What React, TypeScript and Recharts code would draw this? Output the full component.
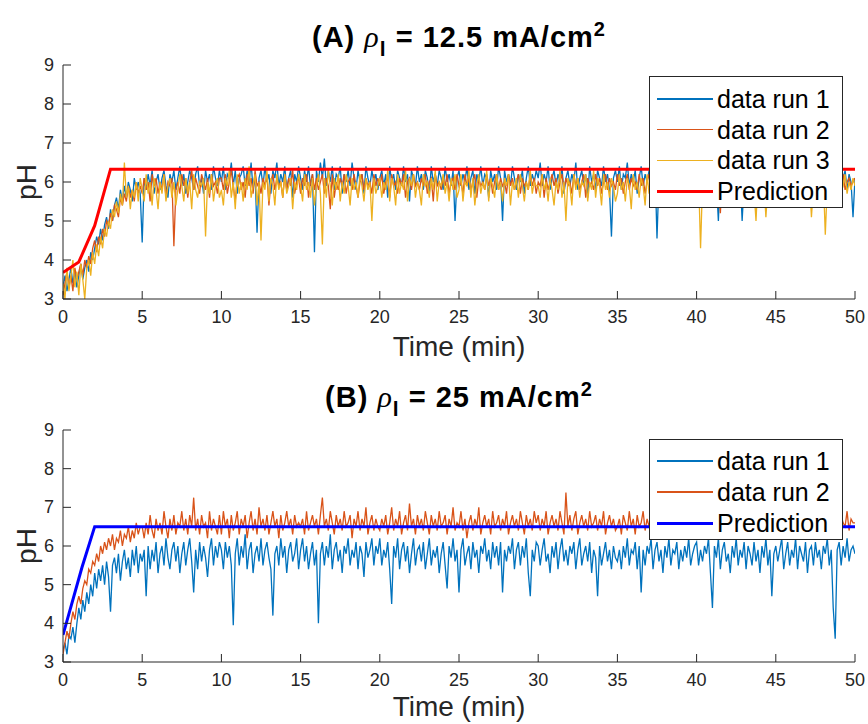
import React from 'react';
import { LineChart, Line, XAxis, YAxis } from 'recharts';

// ---------- data ----------
const TIME_STEP_MIN = 0.125;
const X_TICKS = [0, 5, 10, 15, 20, 25, 30, 35, 40, 45, 50];
const Y_TICKS = [3, 4, 5, 6, 7, 8, 9];

// Panel A: rho_l = 12.5 mA/cm^2 (each line = 5 min)
const A_RUN1 = [
  3.3,3.6,3.2,3.5,3.8,3.4,3.7,3.3,3.6,3.9, 3.5,3.8,4.0,3.7,4.2,4.0,4.3,4.6,4.4,4.8, 4.5,4.9,5.1,4.8,5.3,5.0,5.4,5.6,5.3,5.8, 5.5,5.9,5.6,6.0,5.8,5.5,6.1,5.8,6.0,5.7,
  4.45,6.1,5.8,6.2,5.9,6.3,5.7,6.0,6.2,5.8, 6.1,6.3,5.9,5.6,6.2,6.0,6.3,5.8,6.1,6.4, 5.9,6.2,5.7,6.0,6.3,6.1,5.8,6.2,6.4,5.9, 6.1,5.7,6.3,6.0,6.2,5.8,6.4,6.1,5.9,6.3,
  6.0,6.4,5.8,6.2,6.1,6.5,5.9,6.3,5.7,6.1, 6.2,6.4,5.9,6.3,6.0,6.5,5.8,6.2,4.7,6.1, 6.3,5.9,6.4,6.0,6.2,5.7,6.3,6.1,6.5,5.9, 6.2,6.0,6.4,5.8,6.1,6.3,5.6,6.2,6.0,6.4,
  6.1,5.8,6.3,6.0,6.4,5.9,6.2,4.2,6.3,6.0, 6.5,6.1,6.6,5.9,6.3,6.0,6.4,5.8,6.2,6.1, 6.4,5.7,6.2,6.0,6.3,5.9,6.5,6.1,5.8,6.3, 6.0,6.2,5.7,6.4,6.1,5.9,6.3,6.0,6.2,5.8,
  6.1,6.3,5.9,6.2,5.6,6.4,6.0,6.2,5.8,6.3, 6.1,5.9,6.4,6.0,6.2,5.5,6.3,6.1,5.9,6.4, 6.0,6.2,5.8,6.3,6.1,5.7,6.4,6.0,6.2,5.9, 6.3,6.1,5.8,6.4,6.0,6.2,5.9,6.3,5.0,6.1,
  6.3,5.9,6.2,6.0,6.4,5.8,6.1,6.3,5.7,6.2, 6.0,6.4,5.9,6.2,6.1,5.6,6.3,6.0,6.2,5.8, 6.4,6.1,5.0,6.3,6.0,6.2,5.9,6.4,6.1,5.8, 6.2,6.0,6.3,5.7,6.1,6.4,5.9,6.2,6.0,6.3,
  6.1,6.5,5.9,6.2,6.0,6.4,5.8,6.1,6.3,5.9, 6.2,6.0,6.4,5.7,6.1,6.3,5.9,6.2,6.0,6.5, 5.8,6.1,6.3,5.9,6.2,5.6,6.4,6.0,6.2,5.8, 6.3,6.1,5.9,6.4,6.0,6.2,5.8,4.6,6.1,6.3,
  6.0,6.4,5.8,6.2,6.1,6.5,5.9,6.2,6.0,6.3, 5.7,6.1,6.4,5.9,6.2,6.0,6.3,5.8,6.1,6.4, 4.55,6.1,6.3,5.8,6.2,6.0,6.4,5.9,6.1,6.3, 5.8,6.2,6.0,6.4,5.9,6.1,6.3,5.7,6.2,6.0,
  6.3,5.9,6.2,6.0,6.4,5.8,6.1,6.3,5.9,6.2, 6.0,5.0,6.3,6.1,5.8,6.4,6.0,6.2,5.9,6.3, 6.1,5.8,6.2,5.0,6.0,6.4,5.9,6.2,6.1,5.7, 6.3,6.0,6.2,5.8,6.4,6.1,5.9,6.3,6.0,6.2,
  5.9,6.3,6.1,6.4,5.8,6.2,6.0,6.3,5.9,6.1, 6.4,5.8,6.2,6.0,6.3,5.7,6.1,6.4,5.9,6.2, 6.0,6.3,5.8,6.2,6.1,6.4,5.9,6.0,6.3,5.8, 6.2,6.0,6.4,5.9,6.1,6.3,5.8,6.2,6.0,5.1,
  6.1,
];
const A_RUN2 = [
  3.1,3.4,3.7,3.3,3.6,3.2,3.8,3.5,3.7,3.9, 3.6,4.0,3.8,4.1,3.9,4.3,4.5,4.2,4.6,4.4, 4.8,4.6,5.0,4.9,5.2,5.0,5.4,5.3,5.1,5.6, 5.4,5.7,5.5,5.9,5.6,5.8,5.5,6.0,5.7,5.9,
  5.7,6.1,5.8,6.0,5.5,6.2,5.9,6.1,5.7,6.0, 5.8,6.2,5.6,6.0,5.9,6.1,4.35,5.8,6.0,5.7, 6.2,5.9,6.1,5.6,6.0,6.3,5.8,6.1,5.9,5.7, 6.2,6.0,5.8,6.1,5.6,6.2,5.9,6.0,5.7,6.1,
  6.1,5.8,6.2,5.7,6.0,6.3,5.9,5.5,6.1,6.2, 5.8,6.0,5.6,6.2,5.9,6.1,5.7,6.3,5.9,6.0, 5.7,6.1,5.9,6.2,5.4,6.0,6.2,5.8,6.1,5.9, 6.0,5.6,6.2,5.8,6.1,5.9,6.3,5.7,6.0,6.1,
  5.7,6.1,5.9,6.2,5.6,6.0,6.2,5.8,6.1,5.8, 6.0,6.2,5.7,6.1,5.9,5.3,6.2,5.6,6.0,5.8, 6.1,5.9,6.2,5.7,6.0,6.1,5.8,6.2,5.9,5.6, 6.0,6.2,5.8,6.1,5.9,6.0,5.7,6.2,5.9,6.1,
  5.9,6.2,5.7,6.0,6.1,5.6,6.2,5.9,6.0,5.7, 6.1,5.9,6.2,5.6,6.0,6.1,5.8,6.2,5.9,6.0, 5.8,6.1,5.9,6.2,5.7,6.0,6.1,5.5,6.2,5.9, 6.0,5.8,6.1,5.9,6.2,5.7,6.0,6.1,5.8,6.2,
  5.9,6.0,5.7,6.2,5.9,6.1,5.8,6.0,6.2,5.6, 6.1,5.9,6.0,5.8,6.2,5.9,6.1,5.7,6.0,6.2, 5.8,6.1,5.9,6.0,5.7,6.2,5.9,6.1,5.8,6.0, 6.2,5.7,6.1,5.9,6.0,5.8,6.2,5.9,6.1,5.7,
  6.0,5.9,6.2,5.6,6.1,5.8,6.0,6.2,5.9,6.1, 5.7,6.0,6.2,5.8,6.1,5.9,6.0,5.7,6.2,5.9, 6.1,5.8,6.0,6.2,5.6,6.1,5.9,6.0,5.8,6.2, 5.9,6.1,5.7,6.0,6.2,5.8,6.1,5.9,6.0,5.8,
  6.2,5.9,6.1,5.7,6.0,6.2,5.8,6.1,5.9,6.0, 5.8,6.2,5.9,6.1,5.7,6.0,6.2,5.8,6.1,5.9, 6.0,5.7,6.2,5.9,6.1,5.8,6.0,6.2,5.6,6.1, 5.9,6.0,5.8,6.2,5.9,6.1,5.7,6.0,6.2,5.8,
  6.0,5.9,6.2,5.6,6.1,5.8,6.0,6.2,5.9,6.1, 5.7,6.0,5.2,6.2,5.8,6.1,5.9,6.0,5.7,6.2, 5.9,6.1,5.8,6.0,6.2,5.7,6.1,5.9,6.0,5.8, 6.2,5.9,6.1,5.7,6.0,6.2,5.8,6.1,5.9,6.0,
  5.9,6.1,5.8,6.0,6.2,5.7,6.1,5.9,6.0,5.8, 6.2,5.9,6.1,5.7,6.0,6.2,5.8,6.1,5.9,6.0, 5.8,6.1,5.9,6.2,5.7,6.0,6.1,5.8,6.2,5.9, 6.0,5.7,6.1,5.9,6.2,5.8,6.0,6.1,5.9,6.0,
  6.1,
];
const A_RUN3 = [
  3.4,3.0,3.8,3.2,3.6,4.0,3.3,3.7,3.1,3.9, 3.5,3.0,3.8,4.0,3.6,4.2,3.9,4.4,4.1,4.6, 4.3,4.8,4.6,5.0,4.8,5.3,5.1,5.5,5.2,5.7, 5.4,6.5,5.6,5.9,5.3,5.8,5.6,6.0,5.5,6.1,
  5.8,5.5,6.2,5.7,6.0,5.4,6.1,5.8,5.3,6.0, 5.7,6.2,5.5,5.9,6.1,5.6,6.0,5.4,5.8,6.2, 5.9,5.5,6.1,5.7,6.0,5.3,6.2,5.8,5.6,6.0, 5.9,6.1,4.6,6.0,5.7,6.2,5.5,5.9,6.1,5.6,
  5.8,5.4,6.1,5.9,6.3,5.6,6.0,5.3,6.2,5.7, 6.0,5.5,6.1,5.8,6.4,5.6,5.9,6.2,5.4,6.0, 4.5,6.0,5.8,6.3,5.5,6.1,5.9,5.4,6.2,5.8, 6.0,5.6,6.2,5.7,5.9,6.1,5.3,6.0,5.8,6.2,
  5.9,5.5,6.2,5.8,6.0,5.6,6.1,5.4,5.9,6.2, 5.7,4.4,6.1,5.6,6.3,5.9,5.4,6.1,5.8,6.2, 5.5,6.0,5.7,6.2,5.9,5.4,6.1,5.8,6.0,5.6, 6.2,5.9,5.5,6.1,5.8,6.0,5.0,6.1,5.7,5.9,
  6.1,5.6,6.0,5.8,6.3,5.5,6.1,5.9,5.4,6.2, 5.7,6.0,5.8,6.3,5.5,6.1,5.9,6.2,5.6,6.0, 5.8,5.4,6.2,5.9,6.0,5.6,6.1,5.8,6.3,5.5, 6.0,5.9,6.2,5.7,6.0,5.5,6.1,5.8,6.2,5.6,
  5.8,6.2,5.5,6.0,5.9,6.3,5.6,6.1,5.4,5.9, 6.2,5.7,6.0,5.8,6.3,5.5,6.1,5.9,5.6,6.2, 5.8,6.0,5.5,6.1,5.9,6.2,5.4,6.0,5.8,6.1, 5.6,6.2,5.9,5.5,6.0,5.8,6.3,5.7,6.0,5.9,
  5.9,5.6,6.2,5.8,6.0,5.5,6.1,5.8,5.4,6.0, 5.8,6.3,5.6,6.0,5.0,6.1,5.9,5.4,6.2,5.8, 6.1,5.6,6.0,5.9,6.2,5.5,6.0,5.8,6.3,5.6, 6.1,5.9,5.4,6.2,5.8,6.0,5.6,6.1,5.9,5.5,
  5.7,6.2,5.8,6.0,5.5,6.1,5.9,5.3,6.2,5.8, 6.0,5.6,6.1,5.9,5.4,6.2,5.7,6.0,5.8,6.1, 5.9,5.5,6.2,5.8,6.0,5.6,6.1,5.4,5.9,6.0, 5.7,6.2,5.8,5.5,6.1,5.9,6.0,5.6,6.2,5.8,
  5.9,6.1,4.3,6.0,5.7,6.2,5.5,5.9,6.1,5.6, 6.0,5.8,6.2,5.5,6.0,5.9,5.4,6.1,5.8,6.2, 5.6,6.0,5.9,5.5,6.1,5.8,6.2,5.6,6.0,5.8, 5.0,6.1,5.9,5.6,6.0,5.1,5.9,6.1,5.7,6.0,
  5.8,6.1,5.6,6.0,5.9,6.2,5.5,6.0,5.8,6.1, 5.6,6.0,5.9,6.2,5.4,6.0,5.8,6.1,5.1,5.9, 6.2,5.7,6.0,5.8,6.1,4.65,5.9,6.1,5.7,6.0, 5.8,6.1,5.6,6.0,5.9,6.2,5.7,6.0,5.8,6.1,
  5.9,
];
const A_PRED_T = [0, 1, 2, 3, 50];
const A_PRED_PH = [3.68, 3.95, 4.88, 6.33, 6.33];

// Panel B: rho_l = 25 mA/cm^2 (each line = 5 min)
const B_RUN1 = [
  3.3,3.5,3.2,3.7,3.6,3.9,3.5,4.0,4.4,4.1, 4.6,4.3,4.8,4.5,5.0,4.7,5.3,4.9,5.4,5.1, 5.5,5.0,5.6,5.2,4.3,5.5,5.7,5.3,5.8,5.1, 5.6,5.9,5.4,5.7,5.2,5.9,5.5,6.0,5.3,5.8,
  5.6,5.9,4.7,6.0,5.4,5.9,5.6,6.1,5.3,5.8, 6.0,5.5,6.2,5.7,5.4,5.9,6.1,5.6,6.0,5.3, 5.8,6.1,5.5,5.9,6.2,5.6,4.8,5.9,5.4,6.1, 5.6,6.0,5.7,5.2,5.9,6.2,5.5,6.0,5.7,6.1,
  5.9,5.4,6.1,5.7,6.0,5.5,3.95,5.8,6.2,5.5, 6.0,5.7,6.3,5.4,5.9,6.1,5.3,5.8,6.0,5.6, 6.2,5.5,5.9,6.1,5.7,5.4,4.2,5.8,6.0,5.5, 6.2,5.7,6.0,5.3,5.9,6.1,5.6,5.8,6.2,5.4,
  5.9,6.2,5.6,6.0,5.4,5.8,6.1,5.5,5.9,4.0, 5.8,6.1,5.5,6.0,5.7,6.3,5.4,5.9,6.1,5.6, 5.9,5.3,6.0,5.8,6.2,5.5,5.9,5.7,6.1,5.4, 6.0,5.8,5.2,6.1,5.7,5.9,6.2,5.5,6.0,5.8,
  6.2,5.5,5.9,5.7,6.1,5.4,4.5,6.0,5.7,6.2, 5.4,5.9,6.1,5.6,6.0,5.3,5.8,6.2,5.5,5.9, 6.0,5.6,6.1,5.4,5.8,6.2,5.5,5.9,5.7,6.0, 5.3,5.8,6.1,5.5,4.9,6.0,5.7,6.2,5.6,5.9,
  4.8,5.9,6.2,5.5,5.8,6.0,5.4,6.1,5.7,5.9, 5.3,6.0,5.8,6.2,5.6,5.9,5.4,6.1,5.7,6.0, 5.5,6.1,4.8,5.9,5.6,6.0,5.8,6.2,5.4,5.9, 6.1,5.5,6.0,5.7,6.2,5.3,4.7,5.9,5.6,6.1,
  6.0,5.5,5.9,6.2,5.6,5.8,5.3,6.0,5.7,6.1, 5.4,5.9,6.2,5.6,5.9,5.5,6.0,5.8,6.1,5.4, 5.9,6.2,5.5,5.8,6.0,5.6,6.1,5.3,5.9,5.7, 4.7,6.0,5.5,5.8,6.1,5.6,5.9,5.4,6.0,5.7,
  5.6,5.9,5.4,6.0,5.7,6.2,5.5,5.9,5.8,6.1, 5.4,6.0,4.8,5.9,5.5,6.0,5.8,6.2,5.4,5.9, 6.1,5.6,5.9,5.3,6.0,5.7,6.2,5.5,5.9,5.8, 6.1,5.4,5.9,5.6,6.0,5.7,6.2,5.5,5.8,6.0,
  6.1,5.5,5.9,5.6,6.0,5.8,6.2,5.3,4.4,6.0, 5.7,6.2,5.4,5.9,6.1,5.6,5.8,5.3,6.0,5.7, 6.2,5.5,5.9,5.7,6.1,5.4,6.0,5.8,5.5,6.1, 5.6,5.9,5.3,6.0,5.7,6.2,5.5,5.9,4.7,5.8,
  6.0,5.6,5.9,6.2,5.4,5.8,6.1,5.5,5.9,5.7, 6.2,5.4,6.0,5.8,5.6,6.1,5.3,5.9,6.0,5.5, 6.1,5.7,5.9,5.4,6.0,5.8,6.2,5.5,5.9,4.4, 3.6,5.9,6.1,5.5,6.0,5.7,6.2,5.6,5.9,6.0,
  5.8,
];
const B_RUN2 = [
  3.2,3.5,3.8,3.6,4.0,4.3,4.1,4.5,4.7,4.5, 4.9,5.1,5.0,5.4,5.3,5.6,5.5,5.8,5.6,6.0, 5.8,6.1,5.9,6.2,6.0,6.3,5.9,6.2,6.1,6.4, 6.0,6.3,6.2,6.5,6.1,6.4,6.2,6.6,6.3,6.5,
  6.5,6.2,6.6,6.3,6.8,6.4,6.2,6.7,6.4,6.6, 6.3,6.9,6.5,6.2,6.7,6.4,6.8,6.3,6.6,6.5, 6.9,6.4,6.7,6.3,6.8,6.5,7.25,6.4,6.7,6.3, 6.8,6.5,6.6,6.2,6.9,6.4,6.7,6.5,6.3,6.8,
  6.3,6.9,6.5,6.7,6.2,6.8,6.4,6.6,6.9,6.3, 6.7,6.5,6.8,6.2,6.6,6.9,6.4,6.7,6.3,7.0, 6.5,6.7,6.4,6.8,6.3,6.6,6.9,6.5,6.7,6.2, 6.8,6.4,6.6,6.9,6.5,6.7,6.3,6.8,6.5,6.6,
  6.5,6.7,6.3,6.9,6.4,6.6,6.8,6.5,6.7,6.3, 6.8,7.25,6.5,6.7,6.4,6.9,6.6,6.3,6.8,6.5, 6.7,6.4,6.9,6.5,6.6,6.8,6.2,6.7,6.5,6.9, 6.4,6.7,6.5,7.0,6.3,6.6,6.8,6.4,6.7,6.5,
  6.4,6.7,6.5,6.8,6.3,6.6,7.0,6.4,6.7,6.5, 6.9,6.3,6.6,6.8,6.4,7.1,6.5,6.7,6.3,6.8, 6.5,6.7,6.4,6.9,6.6,6.3,6.8,6.5,6.7,6.4, 6.9,6.5,6.6,6.8,6.3,6.7,6.5,7.0,6.4,6.6,
  6.5,6.9,6.4,6.7,6.2,6.6,6.8,6.4,6.7,6.5, 7.0,6.3,6.6,6.8,6.5,6.7,6.3,6.9,6.5,6.6, 6.8,6.4,6.7,6.5,6.9,6.3,6.6,6.8,6.5,6.7, 6.4,6.9,6.6,6.3,6.8,6.5,6.7,6.4,6.9,6.6,
  6.8,6.4,6.7,6.5,6.9,6.3,6.6,6.8,6.5,6.7, 6.4,6.9,6.6,6.3,7.38,6.5,6.8,6.4,6.7,6.9, 6.3,6.6,6.8,6.5,6.7,6.4,6.9,6.5,6.6,6.8, 6.4,6.7,6.5,6.9,6.3,6.6,6.8,6.5,6.7,6.4,
  6.5,6.7,6.3,6.8,6.6,6.4,6.9,6.5,6.7,6.3, 6.8,6.5,6.6,6.9,6.4,6.7,6.5,6.8,6.3,6.6, 6.9,6.4,6.7,6.5,6.8,6.3,6.6,6.9,6.5,6.7, 6.4,6.8,6.5,6.6,6.9,6.4,6.7,6.5,6.8,6.3,
  6.8,6.4,6.7,6.5,6.9,6.3,6.6,6.8,6.5,6.7, 6.4,6.9,6.5,6.6,6.8,6.3,6.7,6.5,6.9,6.4, 6.6,6.8,6.4,6.7,6.5,6.9,6.3,6.6,6.8,6.5, 6.7,6.4,6.9,6.5,6.6,6.8,6.4,6.7,6.5,6.9,
  6.6,6.8,6.4,6.7,6.5,7.1,6.3,6.6,6.8,6.5, 6.7,6.4,6.9,6.5,6.6,6.8,6.4,6.7,6.5,6.8, 6.3,6.6,6.9,6.5,6.7,6.4,6.8,6.6,6.3,6.9, 6.5,6.7,6.4,6.8,6.6,6.5,6.9,6.4,6.7,6.6,
  6.6,
];
const B_PRED_T = [0, 1.2, 2, 50];
const B_PRED_PH = [3.7, 5.45, 6.5, 6.5];

// ---------- styling ----------
const AXIS = '#262626';
const FONT = '"Liberation Sans", Arial, Helvetica, sans-serif';
const C_RUN1 = '#0072BD';
const C_RUN2 = '#D95319';
const C_RUN3 = '#EDB120';
const C_PRED_A = '#FF0000';
const C_PRED_B = '#0000FF';
const TICK_LEN = 8;
const DATA_WIDTH = 1.3;

const buildRows = (series: number[][]) =>
  series[0].map((_, i) => {
    const row: any = { t: i * TIME_STEP_MIN };
    series.forEach((s, k) => {
      row['r' + (k + 1)] = s[i] ?? null;
    });
    return row;
  });

const buildPred = (ts: number[], ph: number[]) => ts.map((t, i) => ({ t, p: ph[i] }));

const XTickBottom = (props: any) => {
  const { x, y, payload } = props;
  return (
    <g>
      <line x1={x} y1={y} x2={x} y2={y - TICK_LEN} stroke={AXIS} strokeWidth={1} />
      <text x={x} y={y + 24} textAnchor="middle" fontSize={18} fill={AXIS} fontFamily={FONT}>
        {payload.value}
      </text>
    </g>
  );
};
const XTickTop = (props: any) => {
  const { x, y } = props;
  return <line x1={x} y1={y} x2={x} y2={y + TICK_LEN} stroke={AXIS} strokeWidth={1} />;
};
const YTickLeft = (props: any) => {
  const { x, y, payload } = props;
  return (
    <g>
      <line x1={x} y1={y} x2={x + TICK_LEN} y2={y} stroke={AXIS} strokeWidth={1} />
      <text x={x - 9} y={y + 6} textAnchor="end" fontSize={18} fill={AXIS} fontFamily={FONT}>
        {payload.value}
      </text>
    </g>
  );
};
const YTickRight = (props: any) => {
  const { x, y } = props;
  return <line x1={x} y1={y} x2={x - TICK_LEN} y2={y} stroke={AXIS} strokeWidth={1} />;
};

type PanelProps = {
  height: number;
  plotTop: number;
  plotBottom: number;
  rows: any[];
  runColors: string[];
  pred: any[];
  predColor: string;
};

const Panel = ({ height, plotTop, plotBottom, rows, runColors, pred, predColor }: PanelProps) => (
  <LineChart
    width={868}
    height={height}
    data={rows}
    margin={{ top: plotTop, right: 13, bottom: 0, left: 0 }}
  >
    <XAxis
      type="number"
      dataKey="t"
      domain={[0, 50]}
      ticks={X_TICKS}
      interval={0}
      allowDataOverflow
      height={height - plotBottom}
      tickSize={0}
      tickMargin={0}
      tickLine={false}
      axisLine={{ stroke: AXIS, strokeWidth: 1 }}
      tick={<XTickBottom />}
    />
    <XAxis
      xAxisId="top"
      orientation="top"
      type="number"
      dataKey="t"
      domain={[0, 50]}
      ticks={X_TICKS}
      interval={0}
      allowDataOverflow
      height={0}
      tickSize={0}
      tickMargin={0}
      tickLine={false}
      axisLine={{ stroke: AXIS, strokeWidth: 1 }}
      tick={<XTickTop />}
    />
    <YAxis
      type="number"
      domain={[3, 9]}
      ticks={Y_TICKS}
      interval={0}
      allowDataOverflow
      width={63}
      tickSize={0}
      tickMargin={0}
      tickLine={false}
      axisLine={{ stroke: AXIS, strokeWidth: 1 }}
      tick={<YTickLeft />}
    />
    <YAxis
      yAxisId="right"
      orientation="right"
      type="number"
      domain={[3, 9]}
      ticks={Y_TICKS}
      interval={0}
      allowDataOverflow
      width={0}
      tickSize={0}
      tickMargin={0}
      tickLine={false}
      axisLine={{ stroke: AXIS, strokeWidth: 1 }}
      tick={<YTickRight />}
    />
    {runColors.map((c, k) => (
      <Line
        key={k}
        type="linear"
        dataKey={'r' + (k + 1)}
        stroke={c}
        strokeWidth={DATA_WIDTH}
        dot={false}
        activeDot={false}
        isAnimationActive={false}
      />
    ))}
    <Line
      type="linear"
      data={pred}
      dataKey="p"
      stroke={predColor}
      strokeWidth={3}
      dot={false}
      activeDot={false}
      isAnimationActive={false}
    />
  </LineChart>
);

const Title = ({ top, label, value }: { top: number; label: string; value: string }) => (
  <div
    style={{
      position: 'absolute',
      left: 159,
      width: 600,
      top,
      textAlign: 'center',
      fontFamily: FONT,
      fontWeight: 'bold',
      fontSize: 29,
      letterSpacing: 1,
      lineHeight: '34px',
      color: '#000',
      whiteSpace: 'nowrap',
    }}
  >
    {label}{' '}
    <span style={{ fontFamily: '"Liberation Serif", serif', fontStyle: 'italic', fontWeight: 'normal', fontSize: 30 }}>ρ</span>
    <span style={{ position: 'relative', top: 9, fontSize: 21 }}>l</span>
    {' = ' + value + ' mA/cm'}
    <span style={{ position: 'relative', top: -11, fontSize: 20 }}>2</span>
  </div>
);

const LegendBox = ({
  left,
  top,
  width,
  height,
  rowTop,
  rowGap,
  items,
}: {
  left: number;
  top: number;
  width: number;
  height: number;
  rowTop: number;
  rowGap: number;
  items: { name: string; color: string; w: number }[];
}) => (
  <div
    style={{
      position: 'absolute',
      left,
      top,
      width,
      height,
      boxSizing: 'border-box',
      border: `1px solid ${AXIS}`,
      background: '#fff',
      fontFamily: FONT,
    }}
  >
    {items.map((it, i) => (
      <div key={i} style={{ position: 'absolute', left: 0, top: rowTop + i * rowGap - 15, height: 30, width: '100%' }}>
        <div
          style={{
            position: 'absolute',
            left: 7,
            width: 56,
            top: 15 - it.w / 2,
            height: it.w,
            background: it.color,
          }}
        />
        <div
          style={{
            position: 'absolute',
            left: 67,
            top: 0,
            lineHeight: '30px',
            fontSize: 25,
            color: '#000',
            whiteSpace: 'nowrap',
          }}
        >
          {it.name}
        </div>
      </div>
    ))}
  </div>
);

const AxisLabels = ({ top, plotTop, plotBottom, xLabelTop }: { top: number; plotTop: number; plotBottom: number; xLabelTop: number }) => (
  <>
    <div
      style={{
        position: 'absolute',
        left: 259,
        width: 400,
        top: top + xLabelTop,
        textAlign: 'center',
        fontFamily: FONT,
        fontSize: 28,
        lineHeight: '30px',
        color: AXIS,
      }}
    >
      Time (min)
    </div>
    <div
      style={{
        position: 'absolute',
        left: 27 - 50,
        width: 100,
        top: top + (plotTop + plotBottom) / 2 - 15,
        height: 30,
        lineHeight: '30px',
        textAlign: 'center',
        fontFamily: FONT,
        fontSize: 28,
        color: AXIS,
        transform: 'rotate(-90deg)',
      }}
    >
      pH
    </div>
  </>
);

export default function App() {
  const rowsA = buildRows([A_RUN1, A_RUN2, A_RUN3]);
  const rowsB = buildRows([B_RUN1, B_RUN2]);
  const predA = buildPred(A_PRED_T, A_PRED_PH);
  const predB = buildPred(B_PRED_T, B_PRED_PH);

  return (
    <div
      style={{
        position: 'absolute',
        left: 0,
        top: 0,
        width: 868,
        height: 724,
        background: '#fff',
        overflow: 'hidden',
      }}
    >
      <div style={{ position: 'absolute', left: 0, top: 0 }}>
        <Panel
          height={360}
          plotTop={65}
          plotBottom={299}
          rows={rowsA}
          runColors={[C_RUN1, C_RUN2, C_RUN3]}
          pred={predA}
          predColor={C_PRED_A}
        />
      </div>
      <div style={{ position: 'absolute', left: 0, top: 360 }}>
        <Panel
          height={364}
          plotTop={70}
          plotBottom={302}
          rows={rowsB}
          runColors={[C_RUN1, C_RUN2]}
          pred={predB}
          predColor={C_PRED_B}
        />
      </div>
      <Title top={20} label="(A)" value="12.5" />
      <Title top={380} label="(B)" value="25" />
      <AxisLabels top={0} plotTop={65} plotBottom={299} xLabelTop={332} />
      <AxisLabels top={360} plotTop={70} plotBottom={302} xLabelTop={332} />
      <LegendBox
        left={649}
        top={76}
        width={194}
        height={132}
        rowTop={22}
        rowGap={30.7}
        items={[
          { name: 'data run 1', color: C_RUN1, w: 1.3 },
          { name: 'data run 2', color: C_RUN2, w: 1.3 },
          { name: 'data run 3', color: C_RUN3, w: 1.3 },
          { name: 'Prediction', color: C_PRED_A, w: 3 },
        ]}
      />
      <LegendBox
        left={649}
        top={439}
        width={194}
        height={101}
        rowTop={21}
        rowGap={31}
        items={[
          { name: 'data run 1', color: C_RUN1, w: 1.3 },
          { name: 'data run 2', color: C_RUN2, w: 1.3 },
          { name: 'Prediction', color: C_PRED_B, w: 3 },
        ]}
      />
    </div>
  );
}
